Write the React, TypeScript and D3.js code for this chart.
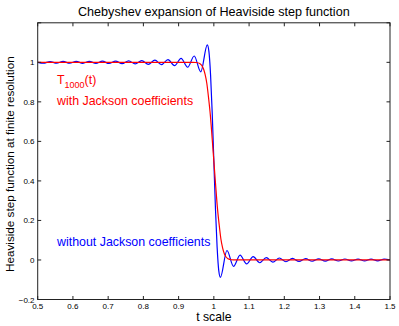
import React from "react";
import * as d3 from "d3";

// x ticks / y ticks
const xTicks = [0.5, 0.6, 0.7, 0.8, 0.9, 1.0, 1.1, 1.2, 1.3, 1.4, 1.5];
const yTicks = [-0.2, 0, 0.2, 0.4, 0.6, 0.8, 1.0, 1.2];
const yTickLabels = ["-0.2", "0", "0.2", "0.4", "0.6", "0.8", "1", ""];
const xTickLabels = ["0.5", "0.6", "0.7", "0.8", "0.9", "1", "1.1", "1.2", "1.3", "1.4", "1.5"];

// Without Jackson coefficients (blue): extrema & points
const blueT = [
  0.5, 0.5164, 0.535, 0.5536, 0.5722, 0.5908, 0.6094, 0.628, 0.6466, 0.6652, 0.6838,
  0.7024, 0.721, 0.7396, 0.7582, 0.7768, 0.7954, 0.814, 0.8326, 0.8512, 0.8698,
  0.8884, 0.907, 0.9256, 0.9442, 0.9628, 0.9814, 0.98605, 0.9907, 0.99535, 1.0,
  1.00465, 1.0093, 1.01395, 1.0186, 1.0372, 1.0558, 1.0744, 1.093, 1.1116, 1.1302,
  1.1488, 1.1674, 1.186, 1.2046, 1.2232, 1.2418, 1.2604, 1.279, 1.2976, 1.3162,
  1.3348, 1.3534, 1.372, 1.3906, 1.4092, 1.4278, 1.4464, 1.465, 1.4836, 1.5,
];
const blueV = [
  1.0, 0.9958, 1.0043, 0.9956, 1.0045, 0.9954, 1.0048, 0.995, 1.0052, 0.9945, 1.0058,
  0.994, 1.0065, 0.993, 1.0075, 0.992, 1.009, 0.99, 1.011, 0.988, 1.014,
  0.983, 1.02, 0.975, 1.032, 0.952, 1.088, 1.054, 0.936, 0.745, 0.5,
  0.255, 0.064, -0.054, -0.088, 0.048, -0.032, 0.025, -0.02, 0.017, -0.014,
  0.012, -0.011, 0.01, -0.009, 0.008, -0.0075, 0.007, -0.0065, 0.006, -0.0058,
  0.0055, -0.0052, 0.005, -0.0048, 0.0046, -0.0045, 0.0044, -0.0043, 0.0042, 0.0,
];

// With Jackson coefficients (red)
const redT = [0.5, 0.94, 0.95, 0.96, 0.97, 0.975, 0.98, 0.985, 0.99, 0.995, 1.0, 1.005, 1.01, 1.015, 1.02, 1.025, 1.03, 1.04, 1.05, 1.06, 1.5];
const redV = [1.0, 1.0, 0.999, 0.994, 0.97, 0.94, 0.894, 0.82, 0.734, 0.62, 0.5, 0.38, 0.266, 0.18, 0.106, 0.06, 0.03, 0.006, 0.001, 0.0, 0.0];

const W = 399;
const H = 326;
const L = 37.7, R = 390, T = 22.8, B = 299.5;
const FONT = "'Liberation Sans', Arial, Helvetica, sans-serif";

export default function App() {
  const x = d3.scaleLinear().domain([0.5, 1.5]).range([L, R]);
  const y = d3.scaleLinear().domain([-0.2, 1.2]).range([B, T]);
  const line = d3
    .line<[number, number]>()
    .x((d) => x(d[0]))
    .y((d) => y(d[1]))
    .curve(d3.curveMonotoneX);
  const blue = blueT.map((t, i) => [t, blueV[i]] as [number, number]);
  const red = redT.map((t, i) => [t, redV[i]] as [number, number]);
  const tl = 3.5;
  return (
    <svg width={W} height={H} style={{ position: "absolute", left: 0, top: 0, background: "#fff" }} fontFamily={FONT}>
      <rect x={0} y={0} width={W} height={H} fill="#fff" />
      <defs>
        <clipPath id="clip">
          <rect x={L} y={T} width={R - L} height={B - T} />
        </clipPath>
      </defs>
      <g clipPath="url(#clip)">
        <path d={line(blue) || ""} fill="none" stroke="#0000ff" strokeWidth={1.2} />
        <path d={line(red) || ""} fill="none" stroke="#ff0000" strokeWidth={1.2} />
      </g>
      <rect x={L} y={T} width={R - L} height={B - T} fill="none" stroke="#222" strokeWidth={1} />
      {xTicks.map((t, i) => (
        <g key={"x" + i}>
          <line x1={x(t)} x2={x(t)} y1={B} y2={B - tl} stroke="#222" />
          <line x1={x(t)} x2={x(t)} y1={T} y2={T + tl} stroke="#222" />
          <text x={x(t)} y={309} fontSize={8} textAnchor="middle" fill="#000">
            {xTickLabels[i]}
          </text>
        </g>
      ))}
      {yTicks.map((v, i) => (
        <g key={"y" + i}>
          <line x1={L} x2={L + tl} y1={y(v)} y2={y(v)} stroke="#222" />
          <line x1={R} x2={R - tl} y1={y(v)} y2={y(v)} stroke="#222" />
          <text x={34.5} y={y(v) + 3} fontSize={8} textAnchor="end" fill="#000">
            {yTickLabels[i].replace("-", "\u2212")}
          </text>
        </g>
      ))}
      <text x={(L + R) / 2} y={15.5} fontSize={12.6} textAnchor="middle" fill="#000">
        Chebyshev expansion of Heaviside step function
      </text>
      <text x={(L + R) / 2} y={321} fontSize={12.2} textAnchor="middle" fill="#000">
        t scale
      </text>
      <text transform={`translate(14,${(T + B) / 2 + 3}) rotate(-90)`} fontSize={11.7} textAnchor="middle" fill="#000">
        Heaviside step function at finite resolution
      </text>
      <text x={57} y={84} fontSize={12.4} fill="#ff0000">
        T<tspan fontSize={9} dy={4}>1000</tspan>
        <tspan dy={-4}>(t)</tspan>
      </text>
      <text x={57} y={105} fontSize={12.4} fill="#ff0000">
        with Jackson coefficients
      </text>
      <text x={57} y={246} fontSize={12.4} fill="#0000ff">
        without Jackson coefficients
      </text>
    </svg>
  );
}
